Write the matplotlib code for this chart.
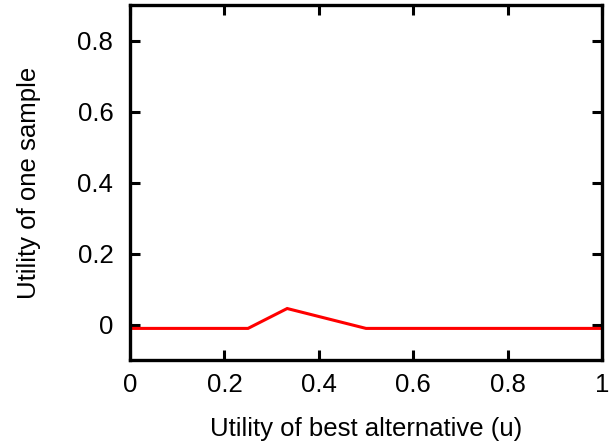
import matplotlib
matplotlib.use("Agg")
import matplotlib.pyplot as plt

x_vals = [0.0, 0.25, 0.333, 0.5, 1.0]
y_vals = [-0.011, -0.011, 0.045, -0.011, -0.011]
x_ticks = [0, 0.2, 0.4, 0.6, 0.8, 1]
x_tick_labels = ["0", "0.2", "0.4", "0.6", "0.8", "1"]
y_ticks = [0, 0.2, 0.4, 0.6, 0.8]
y_tick_labels = ["0", "0.2", "0.4", "0.6", "0.8"]

plt.rcParams['font.family'] = ['Liberation Sans', 'DejaVu Sans']

fig = plt.figure(figsize=(6.1, 4.43), dpi=100)
ax = fig.add_axes([130/610, 1-360/443, (602-130)/610, (360-5)/443])
ax.plot(x_vals, y_vals, color='#ff0000', linewidth=2.2, solid_joinstyle='miter')
ax.set_xlim(0, 1)
ax.set_ylim(-0.1, 0.9)
ax.set_xticks(x_ticks)
ax.set_xticklabels(x_tick_labels)
ax.set_yticks(y_ticks)
ax.set_yticklabels(y_tick_labels)
for s in ax.spines.values():
    s.set_linewidth(2.4)
ax.tick_params(direction='in', length=7, width=2.2, labelsize=18.5, top=True, right=True)
ax.tick_params(axis='x', pad=9)
ax.tick_params(axis='y', pad=12)
ax.set_xlabel("Utility of best alternative (u)", fontsize=18.5, labelpad=15)
ax.set_ylabel("Utility of one sample", fontsize=18.5, labelpad=26)
fig.savefig("out.png", dpi=100)
